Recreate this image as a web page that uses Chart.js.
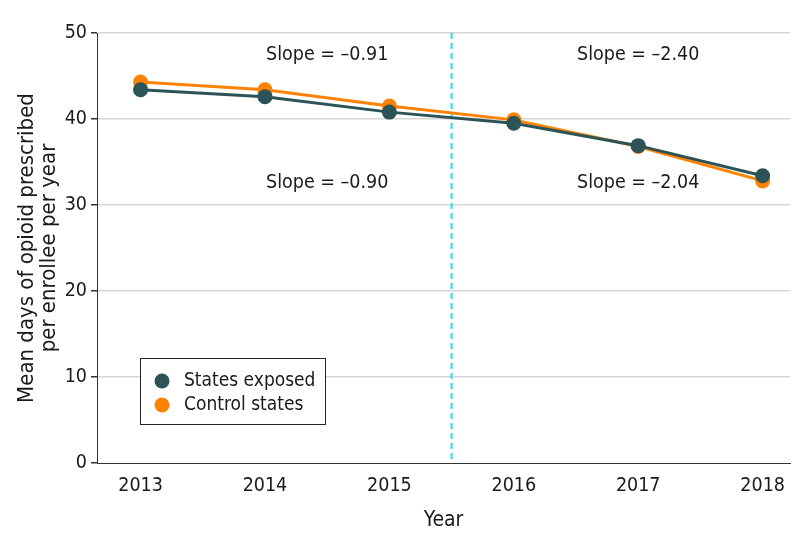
<!DOCTYPE html>
<html>
<head>
<meta charset="utf-8">
<script src="https://cdn.jsdelivr.net/npm/chart.js@4/dist/chart.umd.min.js"></script>
<style>
  html, body { margin: 0; padding: 0; background: #fff; }
  #wrap { width: 798px; height: 548px; }
</style>
</head>
<body>
<div id="wrap"><canvas id="lineCanvas" width="798" height="548"></canvas></div>
<script>
// data
var years = [2013, 2014, 2015, 2016, 2017, 2018];
var statesExposed = [43.4, 42.6, 40.8, 39.5, 36.9, 33.4];
var controlStates = [44.3, 43.4, 41.5, 39.9, 36.8, 32.8];
var yTicks = [0, 10, 20, 30, 40, 50];
var cutoffYear = 2015.5;

// slope labels: text, x (year), y (value)
var slopeText = ["Slope = \u20130.91", "Slope = \u20132.40", "Slope = \u20130.90", "Slope = \u20132.04"];
var slopeX = [2014.5, 2017.0, 2014.5, 2017.0];
var slopeY = [47.4, 47.4, 32.6, 32.6];

var fontFam = "'Liberation Sans Narrow', 'DejaVu Sans Condensed', 'Open Sans', sans-serif";
var tealColor = "#2c5358";
var orangeColor = "#ff8200";

function toPoints(vals){
	var pts = [];
	vals.forEach(function(v, i){ pts.push({x: years[i], y: v}); });
	return pts;
}

// draws the dashed cutoff line, slope labels and the boxed legend
var extrasPlugin = {
	id: "extras",
	beforeDatasetsDraw: function(chart){
		var ctx = chart.ctx;
		var xs = chart.scales.x;
		var area = chart.chartArea;
		var px = xs.getPixelForValue(cutoffYear);
		ctx.save();
		ctx.strokeStyle = "#1fe3f2";
		ctx.lineWidth = 2;
		ctx.setLineDash([6, 4]);
		ctx.beginPath();
		ctx.moveTo(px, area.top);
		ctx.lineTo(px, area.bottom);
		ctx.stroke();
		ctx.restore();
	},
	afterDraw: function(chart){
		var ctx = chart.ctx;
		var xs = chart.scales.x;
		var ys = chart.scales.y;
		ctx.save();
		ctx.font = "19.5px " + fontFam;
		ctx.fillStyle = "#1a1a1a";
		ctx.textAlign = "center";
		ctx.textBaseline = "middle";
		slopeText.forEach(function(t, i){
			ctx.fillText(t, xs.getPixelForValue(slopeX[i]), ys.getPixelForValue(slopeY[i]));
		});

		// legend box
		ctx.fillStyle = "#fff";
		ctx.fillRect(140, 358, 185, 66);
		ctx.strokeStyle = "#222";
		ctx.lineWidth = 1;
		ctx.strokeRect(140.5, 358.5, 185, 66);
		ctx.font = "19px " + fontFam;
		var items = [["States exposed", tealColor], ["Control states", orangeColor]];
		items.forEach(function(it, i){
			var cy = 381 + i * 24;
			ctx.fillStyle = it[1];
			ctx.beginPath();
			ctx.arc(162, cy, 7.5, 0, Math.PI * 2);
			ctx.fill();
			ctx.fillStyle = "#1a1a1a";
			ctx.textAlign = "left";
			ctx.fillText(it[0], 184, cy);
		});
		ctx.restore();
	}
};

var ctx = document.getElementById("lineCanvas");
var lineChart = new Chart(ctx, {
	type: "line",
	data: {
		datasets: [
			{
				label: "States exposed",
				data: toPoints(statesExposed),
				borderColor: tealColor,
				backgroundColor: tealColor,
				pointBackgroundColor: tealColor,
				pointBorderWidth: 0,
				pointRadius: 7.5,
				borderWidth: 3,
				tension: 0
			},
			{
				label: "Control states",
				data: toPoints(controlStates),
				borderColor: orangeColor,
				backgroundColor: orangeColor,
				pointBackgroundColor: orangeColor,
				pointBorderWidth: 0,
				pointRadius: 7.5,
				borderWidth: 3,
				tension: 0
			}
		]
	},
	options: {
		responsive: false,
		animation: false,
		layout: { padding: { top: 33, right: 8, left: 12, bottom: 11 } },
		plugins: {
			legend: { display: false },
			tooltip: { enabled: false }
		},
		scales: {
			x: {
				type: "linear",
				min: 2012.65,
				max: 2018.22,
				afterBuildTicks: function(axis){
					axis.ticks = years.map(function(v){ return { value: v }; });
				},
				afterFit: function(axis){ axis.height = 74; },
				grid: { display: false, drawOnChartArea: false, drawTicks: true, tickLength: 6, color: "#333" },
				border: { color: "#333", width: 1 },
				ticks: {
					color: "#1a1a1a",
					font: { family: fontFam, size: 19.5 },
					padding: 5,
					maxRotation: 0,
					callback: function(v){ return String(v); }
				},
				title: {
					display: true,
					text: "Year",
					color: "#1a1a1a",
					font: { family: fontFam, size: 21 },
					padding: { top: 4 }
				}
			},
			y: {
				min: 0,
				max: 50,
				afterBuildTicks: function(axis){
					axis.ticks = yTicks.map(function(v){ return { value: v }; });
				},
				afterFit: function(axis){ axis.width = 85; },
				grid: {
					color: function(c){ return c.tick && c.tick.value === 0 ? "rgba(0,0,0,0)" : "#d6d6d6"; },
					lineWidth: 1.5,
					tickColor: "#333",
					tickLength: 6
				},
				border: { color: "#333", width: 1 },
				ticks: {
					color: "#1a1a1a",
					font: { family: fontFam, size: 19.5 },
					padding: 4
				},
				title: {
					display: true,
					text: ["Mean days of opioid prescribed", "per enrollee per year"],
					color: "#1a1a1a",
					font: { family: fontFam, size: 22, lineHeight: 1.0 },
					padding: { bottom: 2 }
				}
			}
		}
	},
	plugins: [extrasPlugin]
});
</script>
</body>
</html>
